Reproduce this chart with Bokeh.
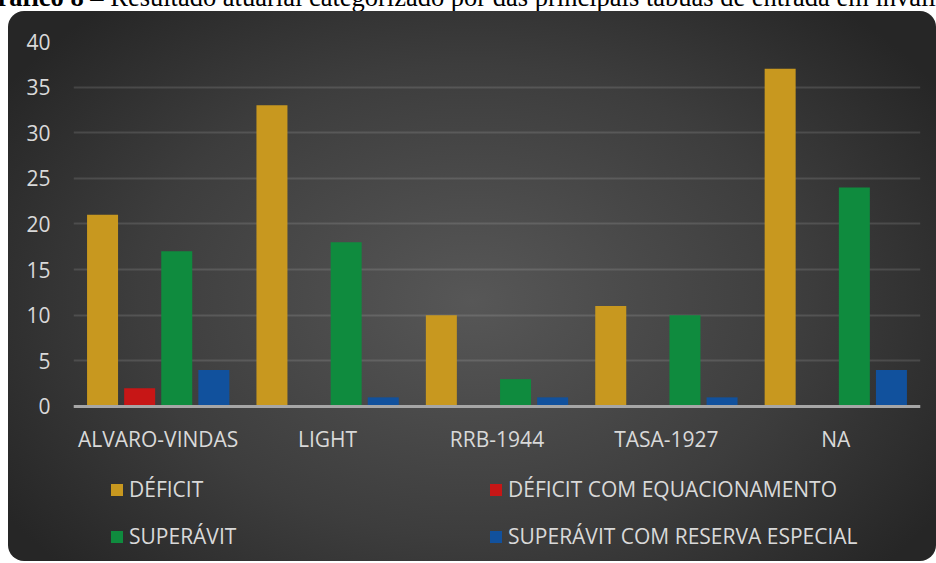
from bokeh.plotting import figure
from bokeh.models import (ColumnDataSource, FactorRange, Range1d, FixedTicker,
                          Legend, LegendItem, Div, GlobalInlineStyleSheet)
from bokeh.layouts import column
from bokeh.transform import dodge
from bokeh.embed import file_html
from bokeh.resources import INLINE

# ---- data ----
categories = ["ALVARO-VINDAS", "LIGHT", "RRB-1944", "TASA-1927", "NA"]
deficit = [21, 33, 10, 11, 37]
deficit_equacionamento = [2, 0, 0, 0, 0]
superavit = [17, 18, 3, 10, 24]
superavit_reserva = [4, 1, 1, 1, 4]
series_names = ["DÉFICIT", "DÉFICIT COM EQUACIONAMENTO", "SUPERÁVIT",
                "SUPERÁVIT COM RESERVA ESPECIAL"]
y_ticks = [0, 5, 10, 15, 20, 25, 30, 35, 40]
title_bold = "Gráfico 8 –"
title_rest = "Resultado atuarial categorizado por das principais tábuas de entrada em invalidez"

colors = ["#C8981F", "#C71616", "#0F8B3E", "#11519D"]
FONT = "Open Sans"
FS = "21px"
TXT = "#D9D9D9"

source = ColumnDataSource(dict(cat=categories, s0=deficit, s1=deficit_equacionamento,
                               s2=superavit, s3=superavit_reserva))

# frame spans the bars area plus the legend area below the zero line
p = figure(x_range=FactorRange(*categories), y_range=Range1d(-16.33, 40),
           width=928, height=604, output_backend="svg", toolbar_location=None,
           min_border_left=65, min_border_right=16, min_border_top=30,
           min_border_bottom=60, margin=(0, 0, 0, 8))
p.background_fill_alpha = 0
p.border_fill_alpha = 0
p.outline_line_color = None
p.styles = {"background": "radial-gradient(ellipse 60% 65% at 50% 48%, #575757 0%, #3d3d3d 60%, #262626 100%)",
            "clip-path": "inset(0px 0px 54px 0px round 16px)"}

step = 0.219
width = 0.183
offsets = [-1.5 * step, -0.5 * step, 0.5 * step, 1.5 * step]
renderers = []
for i, (col, off) in enumerate(zip(["s0", "s1", "s2", "s3"], offsets)):
    r = p.vbar(x=dodge("cat", off, range=p.x_range), top=col, width=width,
               source=source, fill_color=colors[i], line_color=None)
    renderers.append(r)

p.xgrid.grid_line_color = None
p.ygrid.grid_line_color = "#FFFFFF"
p.ygrid.grid_line_alpha = 0.12
p.ygrid.grid_line_width = 2
p.yaxis.ticker = FixedTicker(ticks=y_ticks)
p.yaxis.axis_line_color = None
p.yaxis.major_tick_line_color = None
p.yaxis.minor_tick_line_color = None
p.yaxis.major_label_standoff = 17
p.xaxis.fixed_location = 0
p.xaxis.axis_line_color = "#A6A6A6"
p.xaxis.axis_line_width = 3
p.xaxis.major_tick_line_color = None
p.xaxis.minor_tick_line_color = None
p.xaxis.major_label_standoff = 13
for ax in (p.xaxis, p.yaxis):
    ax.major_label_text_font = FONT
    ax.major_label_text_font_size = FS
    ax.major_label_text_color = TXT

legend = Legend(items=[LegendItem(label=n, renderers=[r]) for n, r in zip(series_names, renderers)],
                ncols=2, orientation="horizontal", location=(36, 5),
                label_text_font=FONT, label_text_font_size=FS, label_text_color=TXT,
                glyph_width=15, glyph_height=15, label_standoff=5, label_width=340,
                label_height=26, spacing=19, padding=0, margin=0,
                background_fill_alpha=0, border_line_color=None)
p.add_layout(legend, "center")

title = Div(text=f"<b>{title_bold}</b> {title_rest}", width=900, height=28, margin=(0, 0, 0, 0),
            styles={"font-family": "'Liberation Serif', 'Times New Roman', serif",
                    "font-size": "26.5px", "line-height": "28px", "color": "#000000",
                    "white-space": "nowrap", "margin-left": "-23px", "margin-top": "-17px"})

layout = column(title, p, spacing=0,
                stylesheets=[GlobalInlineStyleSheet(css="html, body { overflow: hidden; }")])

open("out.html", "w").write(file_html(layout, INLINE))
